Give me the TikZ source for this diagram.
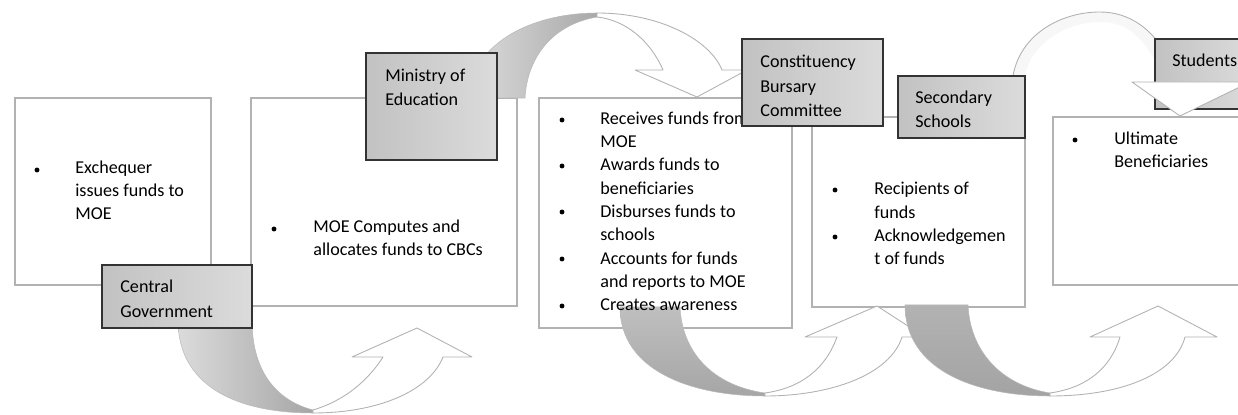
\documentclass[tikz,border=0pt]{standalone}
\usepackage{fontspec}
\setmainfont{Carlito}
\usetikzlibrary{fit}

\begin{document}
\begin{tikzpicture}[x=0.02cm, y=-0.02cm,
		stage/.style={draw=gray!60, fill=white, line width=0.6pt, inner sep=0pt},
		actor/.style={draw=black!80, left color=gray!48, right color=gray!28, line width=0.9pt, inner sep=0pt},
		txt/.style={anchor=base west, inner sep=0pt, align=left, font=\fontsize{10.3}{13.3}\selectfont},
		lbl/.style={txt, font=\fontsize{10.3}{14.2}\selectfont},
		dot/.style={circle, fill=black, inner sep=0pt, minimum size=2.8pt},
		back/.style={draw=gray!55, line width=0.3pt},
		front/.style={fill=white, draw=gray!60, line width=0.5pt, line join=round}]
	\clip (0,0) rectangle (1238,415);

	% the five stages
	\node[stage, fit={(15,98) (211,285)}] (exch) {};
	\node[stage, fit={(251,98) (517,306)}] (moe) {};
	\node[stage, fit={(539,98) (792,328)}] (cbc) {};
	\node[stage, fit={(812,117) (1025,307)}] (schools) {};
	\node[stage, fit={(1053,117) (1250,285)}] (benef) {};

	% bent arrows under the stages
	\path[back, left color=gray!28, middle color=gray!32, right color=gray!70]
		(178,320) .. controls (178,385) and (235,413) .. (313,413) -- (313,410)
		.. controls (275,400) and (252,370) .. (252,320) -- cycle;
	\path[front] (313,413) .. controls (380,413) and (430,390) .. (443,357)
		-- (472,357) -- (417,328) -- (352,357) -- (383,357)
		.. controls (365,385) and (340,402) .. (313,410) -- cycle;

	\path[back, top color=gray!50, bottom color=gray!70]
		(620,307) .. controls (620,370) and (690,396) .. (765,396) -- (765,393)
		.. controls (710,385) and (682,350) .. (680,307) -- cycle;
	\path[front] (765,396) .. controls (830,396) and (890,375) .. (902,337)
		-- (925,337) -- (877,306) -- (805,337) -- (837,337)
		.. controls (825,370) and (800,388) .. (765,393) -- cycle;

	\path[back, top color=gray!60, bottom color=gray!72]
		(905,305) .. controls (905,370) and (975,396) .. (1050,396) -- (1050,393)
		.. controls (1000,385) and (970,350) .. (968,305) -- cycle;
	\path[front] (1050,396) .. controls (1120,396) and (1175,375) .. (1185,337)
		-- (1217,337) -- (1158,306) -- (1090,337) -- (1120,337)
		.. controls (1110,370) and (1085,388) .. (1050,393) -- cycle;

	% what each one does
	\node[dot] (d1) at (37,170) {};
	\node[txt] (exchx) at (75,220) {Exchequer\\issues funds to\\MOE};

	\node[dot] (d2) at (274,229) {};
	\node[txt] (moex) at (313,256) {MOE Computes and\\allocates funds to CBCs};

	\foreach \y [count=\i] in {120,166,212,259,306}
		\node[dot] (d3\i) at (562,\y) {};
	\node[txt] (cbcx) at (600,311) {Receives funds from\\MOE\\Awards funds to\\beneficiaries\\Disburses funds to\\schools\\Accounts for funds\\and reports to MOE\\Creates awareness};

	\node[dot] (d41) at (835,190) {};
	\node[dot] (d42) at (835,237) {};
	\node[txt] (schoolsx) at (874,265) {Recipients of\\funds\\Acknowledgemen\\t of funds};

	\node[dot] (d5) at (1075,140) {};
	\node[txt] (benefx) at (1114,168) {Ultimate\\Beneficiaries};

	% bent arrows over the stages
	\path[back, left color=gray!28, middle color=gray!32, right color=gray!68]
		(470,98) .. controls (470,45) and (530,13) .. (597,13) -- (597,17)
		.. controls (550,25) and (527,60) .. (525,98) -- cycle;
	\path[front] (597,13) .. controls (660,13) and (710,40) .. (722,70)
		-- (747,70) -- (697,97) -- (635,70) -- (663,70)
		.. controls (650,40) and (625,20) .. (597,17) -- cycle;

	\fill[gray!6]
		(1013,76) .. controls (1020,35) and (1060,12) .. (1100,12)
		.. controls (1130,12) and (1150,30) .. (1160,45) -- (1155,60)
		.. controls (1140,35) and (1125,22) .. (1100,22)
		.. controls (1065,22) and (1030,45) .. (1025,76) -- cycle;
	\draw[back, draw=gray!60, line width=0.5pt]
		(1013,76) .. controls (1020,35) and (1060,12) .. (1100,12)
		.. controls (1130,12) and (1150,30) .. (1160,45);

	% who handles the funds
	\node[actor, fit={(102,265) (252,328)}] (cg) {};
	\node[actor, fit={(366,53) (497,160)}] (min) {};
	\node[actor, fit={(742,39) (883,126)}] (com) {};
	\node[actor, fit={(898,76) (1025,138)}] (sec) {};
	\node[actor, fit={(1155,39) (1250,109)}] (stu) {};

	\path[front] (1132,82) -- (1180,116) -- (1250,82) -- cycle;

	% (base of a multi-line node is its last line)
	\node[lbl] (cgt) at (120,317) {Central\\Government};
	\node[lbl] (mint) at (385,106) {Ministry of\\Education};
	\node[lbl] (comt) at (760,117) {Constituency\\Bursary\\Committee};
	\node[lbl] (sect) at (915,128) {Secondary\\Schools};
	\node[lbl] (stut) at (1172,67) {Students};
\end{tikzpicture}
\end{document}
